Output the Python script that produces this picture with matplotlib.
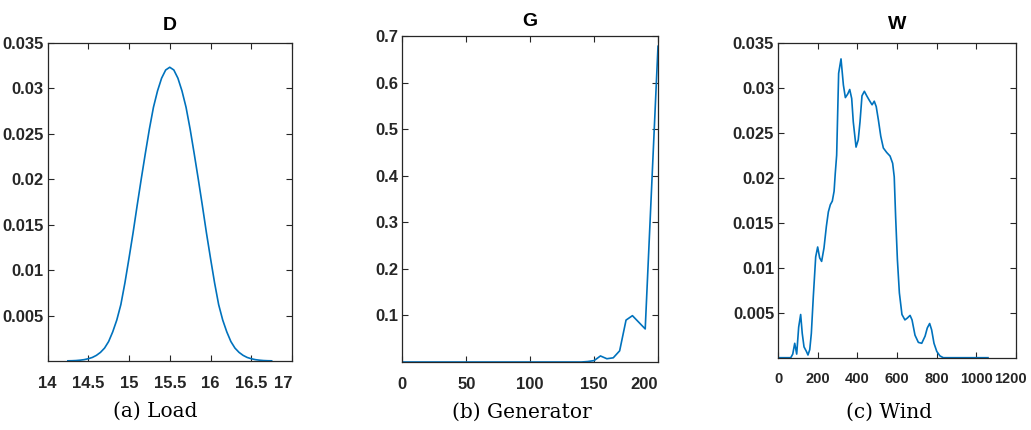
import matplotlib
matplotlib.use('Agg')
import matplotlib.pyplot as plt
from matplotlib.transforms import ScaledTranslation

# Load (D)
load_x = [14.25, 14.30, 14.35, 14.40, 14.45, 14.50, 14.55, 14.60, 14.65, 14.70,
          14.75, 14.80, 14.85, 14.90, 14.95, 15.00, 15.05, 15.10, 15.15, 15.20,
          15.25, 15.30, 15.35, 15.40, 15.45, 15.50, 15.55, 15.60, 15.65, 15.70,
          15.75, 15.80, 15.85, 15.90, 15.95, 16.00, 16.05, 16.10, 16.15, 16.20,
          16.25, 16.30, 16.35, 16.40, 16.45, 16.50, 16.55, 16.60, 16.65, 16.70,
          16.75]
load_y = [0.00002, 0.00003, 0.00005, 0.00009, 0.00015, 0.00025, 0.00039, 0.00062,
          0.00095, 0.00142, 0.00214, 0.0032, 0.0045, 0.0062, 0.0086, 0.0113,
          0.0141, 0.0171, 0.0200, 0.0228, 0.0255, 0.0279, 0.0297, 0.0311, 0.0320,
          0.0323,
          0.0320, 0.0311, 0.0297, 0.0279, 0.0255, 0.0228, 0.0200, 0.0171, 0.0141,
          0.0113, 0.0086, 0.0062, 0.0045, 0.0032, 0.00214, 0.00142, 0.00095,
          0.00062, 0.00039, 0.00025, 0.00015, 0.00009, 0.00005, 0.00003, 0.00002]

# Generator (G)
gen_x = [0, 140, 145, 150, 155, 160, 165, 170, 175, 180, 190, 200]
gen_y = [0, 0, 0.001, 0.003, 0.013, 0.007, 0.009, 0.024, 0.090, 0.0995, 0.071, 0.678]

# Wind (W)
wind_x = [0, 63, 73, 83, 93, 103, 113, 121, 130, 142, 150, 159, 167, 177, 189,
          199, 209, 219, 231, 243, 253, 263, 273, 282, 288, 295, 305, 317, 329,
          339, 351, 361, 371, 379, 393, 404, 413, 423, 435, 447, 460, 474, 485,
          495, 506, 518, 531, 548, 565, 578, 586, 593, 602, 612, 625, 640, 652,
          666, 676, 691, 708, 725, 742, 753, 765, 775, 787, 801, 817, 834, 1060]
wind_y = [0, 0, 0.0004, 0.0016, 0.0004, 0.0034, 0.0048, 0.0027, 0.0012, 0.0007,
          0.0003, 0.0009, 0.0027, 0.0068, 0.0112, 0.0123, 0.0111, 0.0107, 0.0122,
          0.0146, 0.0162, 0.0170, 0.0174, 0.0185, 0.0205, 0.0225, 0.0316, 0.0332,
          0.0303, 0.0289, 0.0293, 0.0298, 0.0288, 0.0262, 0.0234, 0.0242, 0.0262,
          0.0291, 0.0296, 0.0291, 0.0286, 0.0281, 0.0285, 0.0279, 0.0264, 0.0246,
          0.0233, 0.0228, 0.0224, 0.0216, 0.0201, 0.0157, 0.0109, 0.0072, 0.0048,
          0.0042, 0.0044, 0.0047, 0.0042, 0.0025, 0.0017, 0.0016, 0.0024, 0.0033,
          0.0038, 0.0031, 0.0016, 0.0007, 0.0002, 0, 0]

titles = ['D', 'G', 'W']
captions = ['(a) Load', '(b) Generator', '(c) Wind']
xlims = [(14, 17), (0, 200), (0, 1200)]
ylims = [(0, 0.035), (0, 0.7), (0, 0.035)]
xticks = [[14, 14.5, 15, 15.5, 16, 16.5, 17],
          [0, 50, 100, 150, 200],
          [0, 200, 400, 600, 800, 1000, 1200]]
xticklabels = [['14', '14.5', '15', '15.5', '16', '16.5', '17'],
               ['0', '50', '100', '150', '200'],
               ['0', '200', '400', '600', '800', '1000', '1200']]
yticks = [[0.005, 0.01, 0.015, 0.02, 0.025, 0.03, 0.035],
          [0.1, 0.2, 0.3, 0.4, 0.5, 0.6, 0.7],
          [0.005, 0.01, 0.015, 0.02, 0.025, 0.03, 0.035]]
yticklabels = [['0.005', '0.01', '0.015', '0.02', '0.025', '0.03', '0.035'],
               ['0.1', '0.2', '0.3', '0.4', '0.5', '0.6', '0.7'],
               ['0.005', '0.01', '0.015', '0.02', '0.025', '0.03', '0.035']]
# last x label sits flush with the right edge in panels a and b
last_right = [True, True, False]
xlabel_size = [12, 12, 10.5]

W, H = 1031, 430
# axes boxes in pixels: left, right, top, bottom
boxes = [(47.5, 292, 42.7, 361), (402.3, 658, 36, 362), (778.3, 1015.7, 42.7, 357.7)]
caption_pos = [(155, 411), (522, 412), (889, 412)]
title_pad = [9, 7, 10]

tick_font = ['Liberation Sans', 'DejaVu Sans']
fig = plt.figure(figsize=(W / 100, H / 100), dpi=100)

series = [(load_x, load_y), (gen_x, gen_y), (wind_x, wind_y)]
for i, (xs, ys) in enumerate(series):
    l, r, t, b = boxes[i]
    ax = fig.add_axes([l / W, 1 - b / H, (r - l) / W, (b - t) / H])
    ax.plot(xs, ys, color='#0072BD', linewidth=1.2)
    ax.set_xlim(*xlims[i])
    ax.set_ylim(*ylims[i])
    ax.set_xticks(xticks[i])
    ax.set_xticklabels(xticklabels[i])
    ax.set_yticks(yticks[i])
    ax.set_yticklabels(yticklabels[i])
    ax.tick_params(direction='in', length=4, width=0.8, top=True, right=True,
                   labelsize=12, colors='#262626')
    ax.tick_params(axis='x', pad=10.5, labelsize=xlabel_size[i])
    ax.tick_params(axis='y', pad=3)
    for lab in ax.get_xticklabels() + ax.get_yticklabels():
        lab.set_family(tick_font)
        lab.set_fontweight('bold')
    last = ax.get_xticklabels()[-1]
    if last_right[i]:
        last.set_horizontalalignment('right')
    else:
        # keep "1200" inside the picture
        last.set_transform(last.get_transform()
                           + ScaledTranslation(-0.055, 0, fig.dpi_scale_trans))
    for s in ax.spines.values():
        s.set_color('#262626')
        s.set_linewidth(0.9)
    ax.set_title(titles[i], fontsize=14, fontweight='bold', family=tick_font,
                 pad=title_pad[i], color='black')
    cx, cy = caption_pos[i]
    fig.text(cx / W, 1 - cy / H, captions[i], ha='center', va='center',
             family='DejaVu Serif', fontsize=14.5)

plt.savefig('out.png', dpi=100)
